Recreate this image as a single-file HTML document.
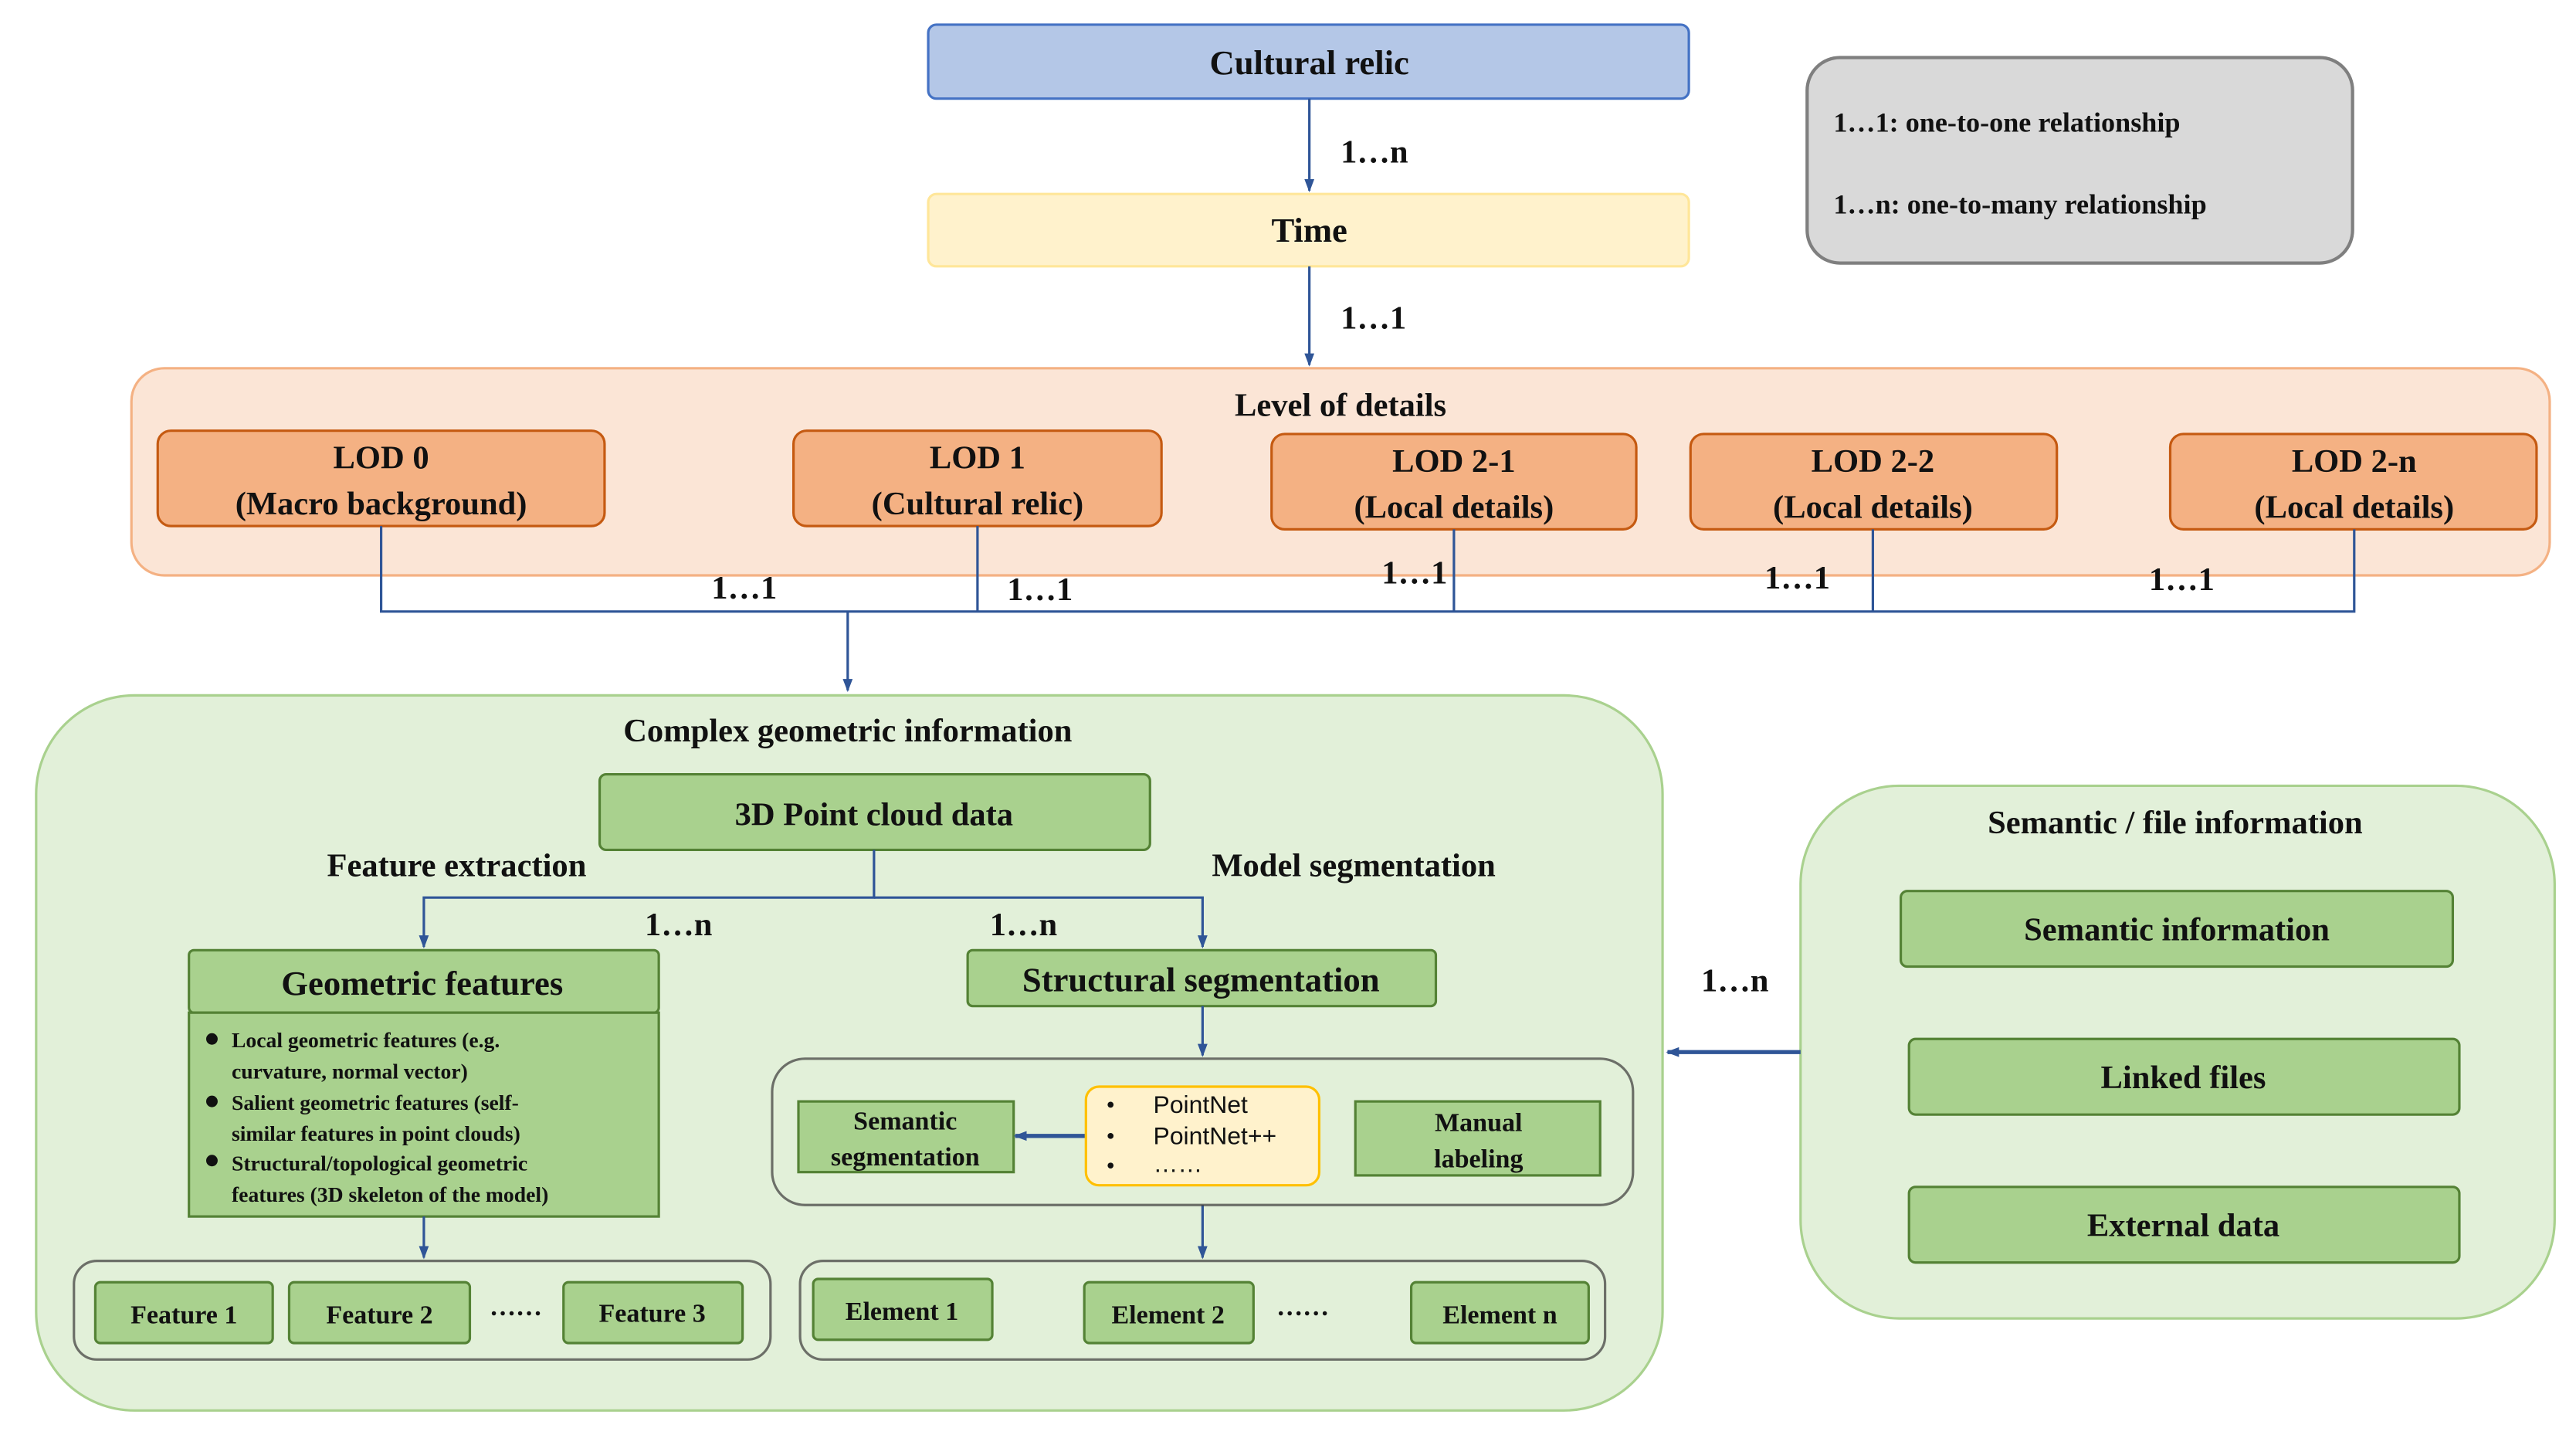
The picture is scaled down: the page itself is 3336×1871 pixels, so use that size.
<!DOCTYPE html>
<html><head><meta charset="utf-8"><style>
html,body{margin:0;padding:0;background:#fff;}
svg{display:block;}
text{font-family:"Liberation Serif",serif;font-weight:bold;fill:#111;}
</style></head><body>
<svg width="3336" height="1871" viewBox="0 0 1568 879" preserveAspectRatio="none" xmlns="http://www.w3.org/2000/svg">
<defs>
<marker id="a" markerWidth="8" markerHeight="8" refX="7" refY="4" orient="auto" markerUnits="userSpaceOnUse"><path d="M0,1 L8,4 L0,7 Z" fill="#2f5597"/></marker>
</defs>
<g stroke-width="1.5">
<!-- top -->
<rect x="565" y="15" width="463" height="45" rx="5" fill="#b4c7e7" stroke="#4472c4"/>
<text x="797" y="45" font-size="21" text-anchor="middle">Cultural relic</text>
<rect x="565" y="118" width="463" height="44" rx="5" fill="#fff2cc" stroke="#ffe699"/>
<text x="797" y="147" font-size="21" text-anchor="middle">Time</text>
<rect x="1100" y="35" width="332" height="125" rx="20" fill="#d9d9d9" stroke="#7f7f7f" stroke-width="2"/>
<text x="1116" y="80" font-size="17">1…1: one-to-one relationship</text>
<text x="1116" y="130" font-size="17">1…n: one-to-many relationship</text>
<line x1="797" y1="60" x2="797" y2="116" stroke="#2f5597" marker-end="url(#a)"/>
<text x="816" y="99" font-size="20">1…n</text>
<line x1="797" y1="162" x2="797" y2="222" stroke="#2f5597" marker-end="url(#a)"/>
<text x="816" y="200" font-size="20">1…1</text>
<!-- LOD -->
<rect x="80" y="224" width="1472" height="126" rx="20" fill="#fbe5d6" stroke="#f4b183"/>
<text x="816" y="253" font-size="20" text-anchor="middle">Level of details</text>
<g fill="#f4b183" stroke="#c55a11">
<rect x="96" y="262" width="272" height="58" rx="8"/>
<rect x="483" y="262" width="224" height="58" rx="8"/>
<rect x="774" y="264" width="222" height="58" rx="8"/>
<rect x="1029" y="264" width="223" height="58" rx="8"/>
<rect x="1321" y="264" width="223" height="58" rx="8"/>
</g>
<g font-size="20" text-anchor="middle">
<text x="232" y="285">LOD 0</text><text x="232" y="313">(Macro background)</text>
<text x="595" y="285">LOD 1</text><text x="595" y="313">(Cultural relic)</text>
<text x="885" y="287">LOD 2-1</text><text x="885" y="315">(Local details)</text>
<text x="1140" y="287">LOD 2-2</text><text x="1140" y="315">(Local details)</text>
<text x="1433" y="287">LOD 2-n</text><text x="1433" y="315">(Local details)</text>
</g>
<g stroke="#2f5597" fill="none">
<polyline points="232,320 232,372 1433,372 1433,322"/>
<line x1="595" y1="320" x2="595" y2="372"/>
<line x1="885" y1="322" x2="885" y2="372"/>
<line x1="1140" y1="322" x2="1140" y2="372"/>
<line x1="516" y1="372" x2="516" y2="420" marker-end="url(#a)"/>
</g>
<g font-size="20" text-anchor="middle">
<text x="453" y="364">1…1</text><text x="633" y="365">1…1</text><text x="861" y="355">1…1</text><text x="1094" y="358">1…1</text><text x="1328" y="359">1…1</text>
</g>
<!-- complex -->
<rect x="22" y="423" width="990" height="435" rx="60" fill="#e2f0d9" stroke="#a9d18e"/>
<!-- semantic container -->
<rect x="1096" y="478" width="459" height="324" rx="60" fill="#e2f0d9" stroke="#a9d18e"/>
<text x="516" y="451" font-size="20" text-anchor="middle">Complex geometric information</text>
<g fill="#a9d18e" stroke="#548235">
<rect x="365" y="471" width="335" height="46" rx="4"/>
<rect x="115" y="578" width="286" height="38" rx="3"/>
<rect x="115" y="616" width="286" height="124"/>
<rect x="589" y="578" width="285" height="34" rx="3"/>
<rect x="486" y="670" width="131" height="43"/>
<rect x="825" y="670" width="149" height="45"/>
<rect x="58" y="780" width="108" height="37" rx="3"/>
<rect x="176" y="780" width="110" height="37" rx="3"/>
<rect x="343" y="780" width="109" height="37" rx="3"/>
<rect x="495" y="778" width="109" height="37" rx="3"/>
<rect x="660" y="780" width="103" height="37" rx="3"/>
<rect x="859" y="780" width="108" height="37" rx="3"/>
<rect x="1157" y="542" width="336" height="46" rx="4"/>
<rect x="1162" y="632" width="335" height="46" rx="4"/>
<rect x="1162" y="722" width="335" height="46" rx="4"/>
</g>
<text x="532" y="502" font-size="20" text-anchor="middle">3D Point cloud data</text>
<text x="278" y="533" font-size="20" text-anchor="middle">Feature extraction</text>
<text x="824" y="533" font-size="20" text-anchor="middle">Model segmentation</text>
<g stroke="#2f5597" fill="none">
<polyline points="532,517 532,546 258,546 258,576" marker-end="url(#a)"/>
<polyline points="532,546 732,546 732,576" marker-end="url(#a)"/>
<line x1="732" y1="612" x2="732" y2="642" marker-end="url(#a)"/>
<line x1="661" y1="691" x2="618" y2="691" stroke-width="2.5" marker-end="url(#a)"/>
<line x1="732" y1="733" x2="732" y2="765" marker-end="url(#a)"/>
<line x1="258" y1="740" x2="258" y2="765" marker-end="url(#a)"/>
<line x1="1096" y1="640" x2="1015" y2="640" stroke-width="2.5" marker-end="url(#a)"/>
</g>
<text x="413" y="569" font-size="20" text-anchor="middle">1…n</text>
<text x="623" y="569" font-size="20" text-anchor="middle">1…n</text>
<text x="257" y="605" font-size="21" text-anchor="middle">Geometric features</text>
<text x="731" y="603" font-size="21" text-anchor="middle">Structural segmentation</text>
<g font-size="13">
<circle cx="129" cy="632" r="3.5" fill="#111"/><text x="141" y="637">Local geometric features (e.g.</text><text x="141" y="656">curvature, normal vector)</text>
<circle cx="129" cy="670" r="3.5" fill="#111"/><text x="141" y="675">Salient geometric features (self-</text><text x="141" y="694">similar features in point clouds)</text>
<circle cx="129" cy="706" r="3.5" fill="#111"/><text x="141" y="712">Structural/topological geometric</text><text x="141" y="731">features (3D skeleton of the model)</text>
</g>
<rect x="470" y="644" width="524" height="89" rx="20" fill="none" stroke="#3b3838" stroke-opacity="0.7"/>
<rect x="661" y="661" width="142" height="60" rx="8" fill="#fff2cc" stroke="#ffc000"/>
<g font-size="15">
<text x="702" y="677" style="font-family:'Liberation Sans',sans-serif;font-weight:normal">PointNet</text>
<text x="702" y="696" style="font-family:'Liberation Sans',sans-serif;font-weight:normal">PointNet++</text>
<text x="702" y="713" style="font-family:'Liberation Sans',sans-serif;font-weight:normal">……</text>
<circle cx="676" cy="672" r="1.8" fill="#111"/><circle cx="676" cy="691" r="1.8" fill="#111"/><circle cx="676" cy="709" r="1.8" fill="#111"/>
</g>
<g font-size="16" text-anchor="middle">
<text x="551" y="687">Semantic</text><text x="551" y="709">segmentation</text>
<text x="900" y="688">Manual</text><text x="900" y="710">labeling</text>
<text x="112" y="805">Feature 1</text><text x="231" y="805">Feature 2</text><text x="397" y="804">Feature 3</text>
<text x="549" y="803">Element 1</text><text x="711" y="805">Element 2</text><text x="913" y="805">Element n</text>
<text x="314" y="800">……</text><text x="793" y="800">……</text>
</g>
<rect x="45" y="767" width="424" height="60" rx="14" fill="none" stroke="#3b3838" stroke-opacity="0.7"/>
<rect x="487" y="767" width="490" height="60" rx="14" fill="none" stroke="#3b3838" stroke-opacity="0.7"/>
<text x="1324" y="507" font-size="20" text-anchor="middle">Semantic / file information</text>
<g font-size="20" text-anchor="middle">
<text x="1325" y="572">Semantic information</text>
<text x="1329" y="662">Linked files</text>
<text x="1329" y="752">External data</text>
</g>
<text x="1056" y="603" font-size="20" text-anchor="middle">1…n</text>
</g>
</svg>
</body></html>
